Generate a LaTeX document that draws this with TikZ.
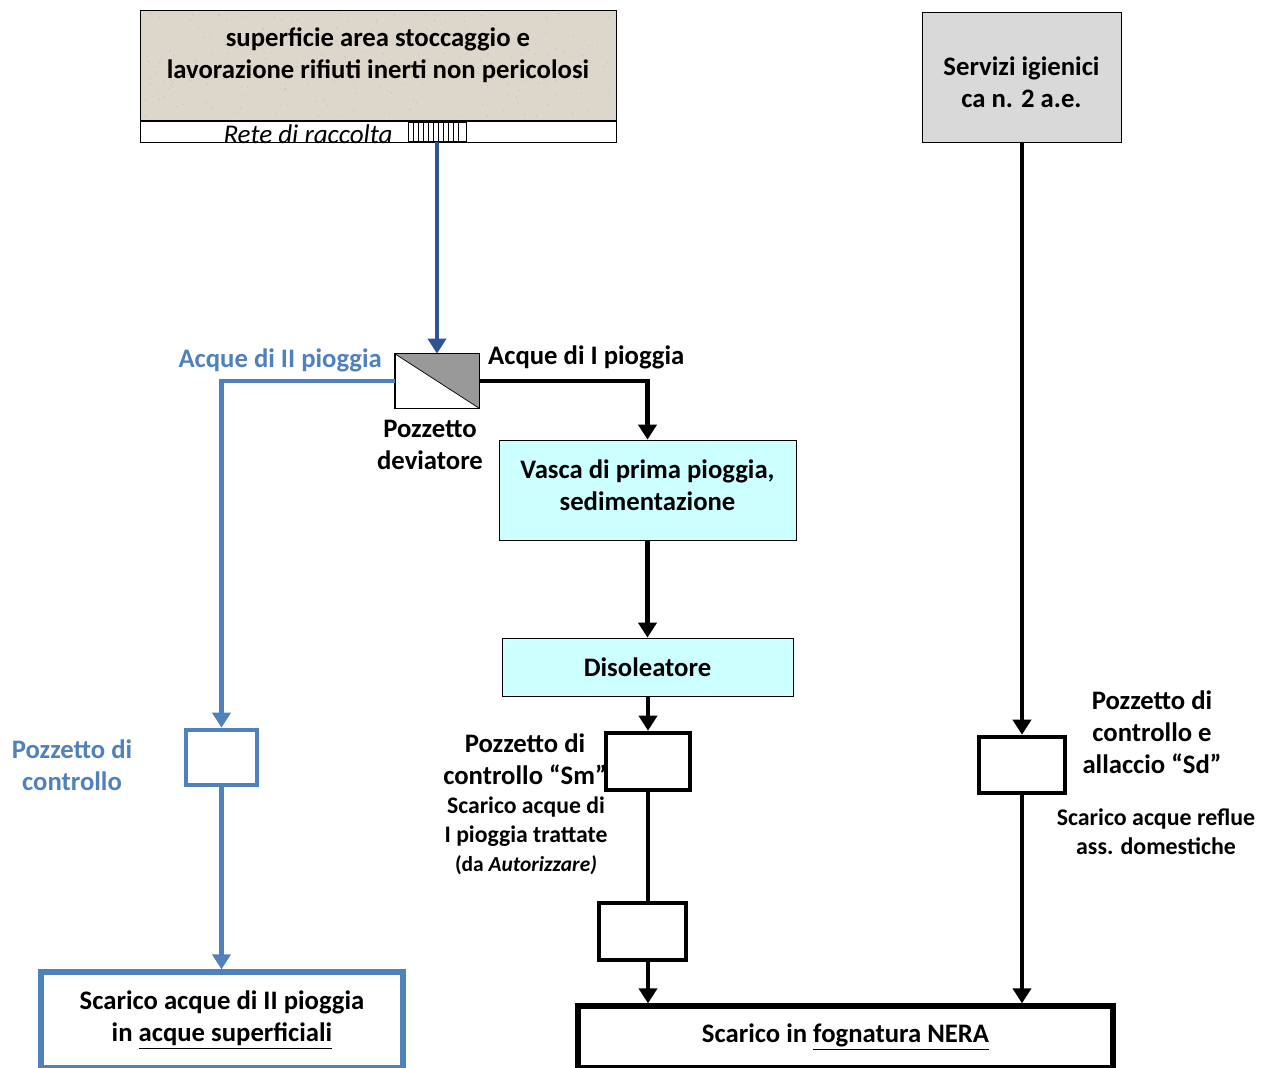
\documentclass[tikz,border=0pt]{standalone}
\usepackage{fontspec}
\setmainfont{Carlito}
\usetikzlibrary{arrows.meta}
\definecolor{sandbeige}{HTML}{DDD6CA}
\definecolor{speck}{HTML}{BDB4A6}
\definecolor{paleblue}{HTML}{4F81BD}
\definecolor{deepblue}{HTML}{2F5496}
\definecolor{palecyan}{HTML}{CCFFFF}
\definecolor{lightgray}{HTML}{D9D9D9}
\definecolor{midgray}{HTML}{999999}

\begin{document}
\begin{tikzpicture}[x=0.02cm, y=-0.02cm,
  font=\fontsize{15.2}{18.2}\selectfont\bfseries,
  box/.style={draw, thin, inner sep=0pt, align=center},
  cbox/.style={box, fill=palecyan},
  pbox/.style={draw, line width=2.6pt, fill=white, inner sep=0pt},
  bpbox/.style={pbox, draw=paleblue},
  arr/.style={line width=2.5pt, -{Triangle[length=0.3cm, width=0.36cm]}},
  barr/.style={arr, color=paleblue},
  lbl/.style={align=center},
  ]
\useasboundingbox (0,0) rectangle (1272,1068);

% source surfaces
\path (378,65) node[box, fill=sandbeige, minimum width=9.52cm, minimum height=2.2cm](stock){};
\pgfmathsetseed{11}
\foreach \i in {1,...,260}
  \fill[speck, opacity=.6] ({143+470*rnd},{13+104*rnd}) circle (0.7);
\path (378,55) node[lbl](stocktxt){superficie area stoccaggio e\\lavorazione rifiuti inerti non pericolosi};
\path (378,131.5) node[box, fill=white, minimum width=9.52cm, minimum height=.42cm](rete){};
\path (308,144) node[anchor=base, font=\fontsize{15.4}{16}\selectfont\itshape\mdseries](retetxt){Rete di raccolta};
\draw[thin] (408,122) rectangle (466,141);
\foreach \gx in {413,418,...,458}
  \draw[thin] (\gx,122) -- (\gx,141);

\path (1021.5,77) node[box, fill=lightgray, minimum width=3.98cm, minimum height=2.6cm](serv){};
\path (1021.5,82) node[lbl](servtxt){Servizi igienici\\ca n. 2 a.e.};

% deviator
\path (437,381) node[box, fill=white, minimum width=1.68cm, minimum height=1.08cm](dev){};
\fill[midgray] (dev.north west) -- (dev.north east) -- (dev.south east) -- cycle;
\draw[thin] (dev.north west) rectangle (dev.south east);
\draw[thin] (dev.north west) -- (dev.south east);
\path (430,445) node[lbl](devtxt){Pozzetto\\deviatore};
\path (388,360) node[anchor=east, text=paleblue](acq2){Acque di II pioggia};
\path (482,357) node[anchor=west](acq1){Acque di I pioggia};

% treatment line
\path (647.5,490) node[cbox, minimum width=5.94cm, minimum height=2cm](vasca){};
\path (647.5,485) node[lbl](vascatxt){Vasca di prima pioggia,\\sedimentazione};
\path (647.5,667) node[cbox, minimum width=5.82cm, minimum height=1.16cm](disol){Disoleatore};
\path (648,761.5) node[pbox, minimum width=1.68cm, minimum height=1.14cm](sm){};
\path (642.5,931.5) node[pbox, minimum width=1.74cm, minimum height=1.14cm](smb){};
\path (525,759) node[lbl](smtxt){Pozzetto di\\controllo “Sm”};
\path (526,836) node[lbl, font=\fontsize{13.5}{16.4}\selectfont\bfseries](smnote){Scarico acque di\\I pioggia trattate\\{\fontsize{12.2}{13.5}\selectfont(da \textit{Autorizzare)}}};

% second rain
\path (221.5,757.5) node[bpbox, minimum width=1.42cm, minimum height=1.1cm](bpoz){};
\path (72,765) node[lbl, text=paleblue](bpoztxt){Pozzetto di\\controllo};
\path (222,1020) node[bpbox, line width=3pt, align=center, minimum width=7.24cm, minimum height=1.92cm](surf){Scarico acque di II pioggia\\in \underline{acque superficiali}};

% domestic
\path (1022,765) node[pbox, minimum width=1.72cm, minimum height=1.12cm](sd){};
\path (1152,732) node[lbl](sdtxt){Pozzetto di\\controllo e\\allaccio “Sd”};
\path (1156,832) node[lbl, font=\fontsize{13.6}{16.4}\selectfont\bfseries](sdnote){Scarico acque reflue\\ass. domestiche};

\path (845.5,1037) node[pbox, line width=3pt, minimum width=10.7cm, minimum height=1.24cm](nera){Scarico in \underline{fognatura NERA}};

% connectors
\draw[arr, color=deepblue] (rete.south -| dev.north) -- (dev.north);
\draw[barr] (dev.west) -| (bpoz.north);
\draw[barr] (bpoz.south) -- (surf.north -| bpoz.south);
\draw[arr] (dev.east) -| (vasca.north);
\draw[arr] (vasca.south) -- (disol.north -| vasca.south);
\draw[arr] (disol.south -| sm.north) -- (sm.north);
\draw[line width=2.5pt] (sm.south) -- (sm.south |- smb.north);
\draw[arr] (sm.south |- smb.south) -- (nera.north -| sm.south);
\draw[arr] (serv.south -| sd.north) -- (sd.north);
\draw[arr] (sd.south) -- (nera.north -| sd.south);

\end{tikzpicture}
\end{document}
